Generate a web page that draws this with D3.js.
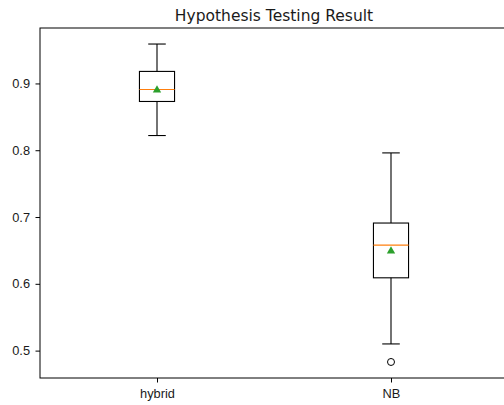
<!DOCTYPE html>
<html>
<head>
<meta charset="utf-8">
<script src="https://cdn.jsdelivr.net/npm/d3@7"></script>
<style>
  html, body { margin: 0; padding: 0; background: #fff; }
  svg { display: block; font-family: "DejaVu Sans", sans-serif; }
</style>
</head>
<body>
<svg id="chart" width="504" height="405"></svg>
<script>
// Box statistics per method
const categories = ["hybrid", "NB"];
const whiskerLow = [0.822, 0.510];
const q1 = [0.873, 0.609];
const median = [0.891, 0.658];
const q3 = [0.918, 0.691];
const whiskerHigh = [0.959, 0.796];
const means = [0.890, 0.649];
const outliers = [[], [0.483]];
const yTicks = [0.5, 0.6, 0.7, 0.8, 0.9];

const svg = d3.select("#chart");
const plotLeft = 40, plotRight = 508, plotTop = 28, plotBottom = 378;

const x = d3.scaleLinear().domain([0.5, 2.5]).range([plotLeft, plotRight]);
const y = d3.scaleLinear().domain([0.459, 0.983]).range([plotBottom, plotTop]);

const boxW = x(1.15) - x(1);
const capW = boxW / 2;

// axes
const yAxis = d3.axisLeft(y).tickValues(yTicks).tickFormat(d3.format(".1f")).tickSize(4.5).tickPadding(5.5);
const gy = svg.append("g").attr("transform", `translate(${plotLeft},0)`).call(yAxis);
gy.select(".domain").remove();
gy.selectAll("text").attr("font-size", 12.8).attr("fill", "#1a1a1a");
gy.selectAll("line").attr("stroke", "#000");

const xAxis = d3.axisBottom(x).tickValues([1, 2]).tickFormat((d, i) => categories[i]).tickSize(4.5).tickPadding(6.5);
const gx = svg.append("g").attr("transform", `translate(0,${plotBottom})`).call(xAxis);
gx.select(".domain").remove();
gx.selectAll("text").attr("font-size", 12.8).attr("fill", "#1a1a1a");
gx.selectAll("line").attr("stroke", "#000");

// spines
svg.append("rect")
  .attr("x", plotLeft).attr("y", plotTop)
  .attr("width", plotRight - plotLeft).attr("height", plotBottom - plotTop)
  .attr("fill", "none").attr("stroke", "#000").attr("stroke-width", 1);

// boxes
const g = svg.append("g");
categories.forEach((c, i) => {
  const cx = x(i + 1);
  const line = (x1, y1, x2, y2, col) => g.append("line")
    .attr("x1", x1).attr("y1", y1).attr("x2", x2).attr("y2", y2)
    .attr("stroke", col || "#000").attr("stroke-width", 1.1);
  // whiskers
  line(cx, y(q1[i]), cx, y(whiskerLow[i]));
  line(cx, y(q3[i]), cx, y(whiskerHigh[i]));
  // caps
  line(cx - capW / 2, y(whiskerLow[i]), cx + capW / 2, y(whiskerLow[i]));
  line(cx - capW / 2, y(whiskerHigh[i]), cx + capW / 2, y(whiskerHigh[i]));
  // box
  g.append("rect")
    .attr("x", cx - boxW / 2).attr("y", y(q3[i]))
    .attr("width", boxW).attr("height", y(q1[i]) - y(q3[i]))
    .attr("fill", "none").attr("stroke", "#000").attr("stroke-width", 1.1);
  // median
  line(cx - boxW / 2, y(median[i]), cx + boxW / 2, y(median[i]), "#ff7f0e");
  // mean
  g.append("path")
    .attr("d", d3.symbol(d3.symbolTriangle, 30)())
    .attr("transform", `translate(${cx},${y(means[i])})`)
    .attr("fill", "#2ca02c");
  // fliers
  outliers[i].forEach(v => {
    g.append("circle")
      .attr("cx", cx).attr("cy", y(v)).attr("r", 3.5)
      .attr("fill", "none").attr("stroke", "#000").attr("stroke-width", 1);
  });
});

// title
svg.append("text")
  .attr("x", (plotLeft + plotRight) / 2).attr("y", plotTop - 7)
  .attr("text-anchor", "middle")
  .attr("font-size", 15.5)
  .attr("fill", "#1a1a1a")
  .text("Hypothesis Testing Result");
</script>
</body>
</html>
